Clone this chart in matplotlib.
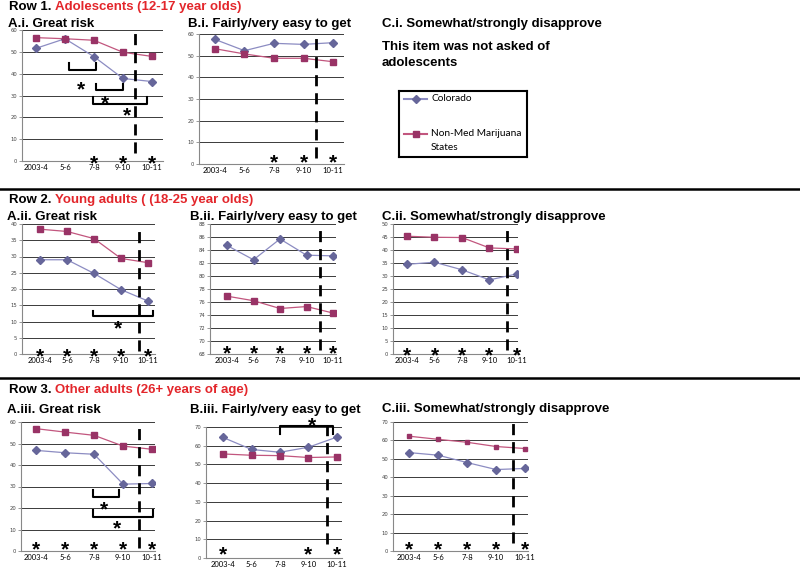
import matplotlib
matplotlib.use('Agg')
import matplotlib.pyplot as plt
from matplotlib.lines import Line2D

years = ['2003-4', '5-6', '7-8', '9-10', '10-11']

# Row 1: adolescents (12-17)
co_risk_adol = [51.6, 56.0, 47.8, 37.8, 36.4]
nm_risk_adol = [56.5, 56.0, 55.3, 49.8, 47.9]
co_easy_adol = [57.5, 52.3, 55.7, 55.2, 56.0]
nm_easy_adol = [53.2, 50.8, 48.8, 48.8, 47.2]

# Row 2: young adults (18-25)
co_risk_young = [29.0, 29.0, 24.8, 19.8, 16.3]
nm_risk_young = [38.4, 37.7, 35.5, 29.4, 28.1]
co_easy_young = [84.7, 82.5, 85.7, 83.2, 83.1]
nm_easy_young = [76.9, 76.2, 75.0, 75.3, 74.3]
co_disap_young = [34.5, 35.3, 32.4, 28.5, 30.8]
nm_disap_young = [45.3, 44.9, 44.8, 40.8, 40.4]

# Row 3: other adults (26+)
co_risk_adult = [46.8, 45.7, 45.0, 31.1, 31.4]
nm_risk_adult = [56.9, 55.3, 53.8, 48.8, 47.3]
co_easy_adult = [64.4, 58.0, 56.5, 59.2, 64.6]
nm_easy_adult = [55.6, 54.9, 54.7, 53.7, 54.0]
co_disap_adult = [53.4, 52.0, 48.0, 44.2, 44.8]
nm_disap_adult = [62.3, 60.6, 59.0, 56.7, 55.6]

# significant differences (year indices)
sig_risk_adol = [2, 3, 4]
sig_easy_adol = [2, 3, 4]
sig_all = [0, 1, 2, 3, 4]
sig_easy_adult = [0, 3, 4]

W, H = 800, 568
fig = plt.figure(figsize=(8, 5.68), dpi=100)

CO_LINE = '#8C8CC2'
CO_MARK = '#66669A'
NM_LINE = '#C2567E'
NM_MARK = '#993366'
RED = '#E3262B'
TITLE_FONT = 'Liberation Sans'
TFS = 9.5


def box(l, t, r, b):
    return [l / W, 1 - b / H, (r - l) / W, (b - t) / H]


def star(ax, x, y, fs=15):
    ax.annotate('*', (x, y), xytext=(0, -0.585 * fs), textcoords='offset points',
                ha='center', va='baseline', fontsize=fs, fontweight='bold',
                family=TITLE_FONT, annotation_clip=False)


def panel(rect, xlim, yticks, co, nm, dash, span, stars, star_y,
          brackets=(), nm_ms=4.8):
    ax = fig.add_axes(box(*rect))
    x = list(range(len(years)))
    ax.set_xlim(*xlim)
    ax.set_ylim(yticks[0], yticks[-1])
    ax.set_yticks(yticks)
    ax.set_xticks(x)
    ax.set_xticklabels(years, fontsize=5.5, family='Lato')
    ax.tick_params(axis='x', length=0, pad=2)
    ax.tick_params(axis='y', length=2, pad=1.5, labelsize=3.8,
                   labelcolor='#444444', color='#888888', width=0.6)
    for s in ['top', 'right']:
        ax.spines[s].set_visible(False)
    for s in ['left', 'bottom']:
        ax.spines[s].set_color('#888888')
        ax.spines[s].set_linewidth(0.8)
    ax.grid(axis='y', color='#3a3a3a', lw=0.7)
    ax.set_axisbelow(True)
    lc, = ax.plot(x, co, color=CO_LINE, lw=0.9, marker='D', ms=3.6,
                  mfc=CO_MARK, mec=CO_MARK, zorder=3)
    ln, = ax.plot(x, nm, color=NM_LINE, lw=0.9, marker='s', ms=nm_ms,
                  mfc=NM_MARK, mec=NM_MARK, zorder=3)
    ax.axvline(dash, ymin=span[0], ymax=span[1], color='black', lw=2,
               ls=(0, (4, 2.5)), clip_on=False, zorder=4)
    for i in stars:
        star(ax, i, star_y)
    for x0, x1, y, h, sx, sy in brackets:
        ax.plot([x0, x0, x1, x1], [y + h, y, y, y + h], color='black',
                lw=1.5, clip_on=False, solid_joinstyle='round', zorder=4)
        star(ax, sx, sy)
    return ax, lc, ln


# Row 1
panel((22, 30, 163, 161), (-0.48, 4.38), list(range(0, 61, 10)),
      co_risk_adol, nm_risk_adol, 3.42, (0.06, 1.0), sig_risk_adol, 1.8,
      brackets=[(1.14, 2.07, 41.6, 3.1, 1.55, 35.5),
                (2.07, 3.0, 32.5, 2.7, 2.38, 29.1),
                (1.97, 3.83, 26.3, 2.8, 3.14, 23.7)])
panel((199, 34, 344, 164), (-0.54, 4.37), list(range(0, 61, 10)),
      co_easy_adol, nm_easy_adol, 3.42, (0.05, 1.0), sig_easy_adol, 3.8)

# Row 2
panel((22, 224, 155, 354), (-0.67, 4.26), list(range(0, 41, 5)),
      co_risk_young, nm_risk_young, 3.67, (0.02, 0.95), sig_all, 1.3,
      brackets=[(1.96, 4.19, 11.6, 1.7, 2.9, 9.8)])
panel((210, 224, 336, 354), (-0.64, 4.11), list(range(68, 89, 2)),
      co_easy_young, nm_easy_young, 3.5, (0.03, 0.98), sig_all, 69.1)
panel((393, 224, 518, 354), (-0.51, 4.04), list(range(0, 51, 5)),
      co_disap_young, nm_disap_young, 3.64, (0.03, 0.98), sig_all, 1.9)

# Row 3
panel((21, 422, 155, 551), (-0.52, 4.1), list(range(0, 61, 10)),
      co_risk_adult, nm_risk_adult, 3.55, (0.02, 0.99), sig_all, 3.5,
      brackets=[(1.97, 2.86, 25.2, 3.1, 2.34, 22.0),
                (1.97, 4.03, 15.9, 3.1, 2.8, 13.6)])
panel((206, 427, 342, 558), (-0.6, 4.18), list(range(0, 71, 10)),
      co_easy_adult, nm_easy_adult, 3.65, (0.11, 1.07), sig_easy_adult, 5.4,
      brackets=[(2.0, 3.86, 70.3, -4.3, 3.12, 73.9)])
panel((393, 422, 528, 551), (-0.55, 4.1), list(range(0, 71, 10)),
      co_disap_adult, nm_disap_adult, 3.59, (0.06, 1.0), sig_all, 4.2,
      nm_ms=3)

# panel titles
titles = [('A.i. Great risk', 8, 27), ('B.i. Fairly/very easy to get', 188, 27),
          ('C.i. Somewhat/strongly disapprove', 382, 27),
          ('A.ii. Great risk', 7, 220), ('B.ii. Fairly/very easy to get', 190, 220),
          ('C.ii. Somewhat/strongly disapprove', 382, 220),
          ('A.iii. Great risk', 7, 413), ('B.iii. Fairly/very easy to get', 190, 413),
          ('C.iii. Somewhat/strongly disapprove', 382, 412)]
for txt, tx, ty in titles:
    fig.text(tx / W, 1 - ty / H, txt, fontsize=TFS, fontweight='bold',
             family=TITLE_FONT, va='baseline')

fig.text(382 / W, 1 - 50 / H, 'This item was not asked of', fontsize=TFS,
         fontweight='bold', family=TITLE_FONT, va='baseline')
fig.text(382 / W, 1 - 66 / H, 'adolescents', fontsize=TFS,
         fontweight='bold', family=TITLE_FONT, va='baseline')

# row headers
renderer = fig.canvas.get_renderer()
headers = [('Row 1.', 'Adolescents (12-17 year olds)', 10),
           ('Row 2.', 'Young adults ( (18-25 year olds)', 203),
           ('Row 3.', 'Other adults (26+ years of age)', 393)]
for lead, rest, hy in headers:
    t = fig.text(9 / W, 1 - hy / H, lead + ' ', fontsize=TFS, fontweight='bold',
                 family=TITLE_FONT, va='baseline')
    bb = t.get_window_extent(renderer=renderer)
    fig.text(bb.x1 / W, 1 - hy / H, rest, fontsize=TFS, fontweight='bold',
             family=TITLE_FONT, va='baseline', color=RED)

# separators
for sy in [189, 378]:
    fig.add_artist(Line2D([0, 1], [1 - sy / H] * 2, color='black', lw=1.8))

# legend box
leg = fig.add_axes(box(399, 91, 527, 157))
leg.set_xticks([])
leg.set_yticks([])
for s in leg.spines.values():
    s.set_linewidth(1.5)
    s.set_color('black')
leg.set_xlim(0, 1)
leg.set_ylim(0, 1)
leg.plot([0.04, 0.13, 0.22], [0.88, 0.88, 0.88], color=CO_LINE, lw=1.5,
         marker='D', ms=3.6, mfc=CO_MARK, mec=CO_MARK, markevery=[1])
leg.plot([0.04, 0.13, 0.22], [0.35, 0.35, 0.35], color=NM_LINE, lw=1.5,
         marker='s', ms=4.8, mfc=NM_MARK, mec=NM_MARK, markevery=[1])
leg.text(0.25, 0.88, 'Colorado', fontsize=7.3, family='Lato', va='center')
leg.text(0.25, 0.35, 'Non-Med Marijuana', fontsize=7.3, family='Lato', va='center')
leg.text(0.25, 0.15, 'States', fontsize=7.3, family='Lato', va='center')

fig.savefig('out.png', dpi=100)
